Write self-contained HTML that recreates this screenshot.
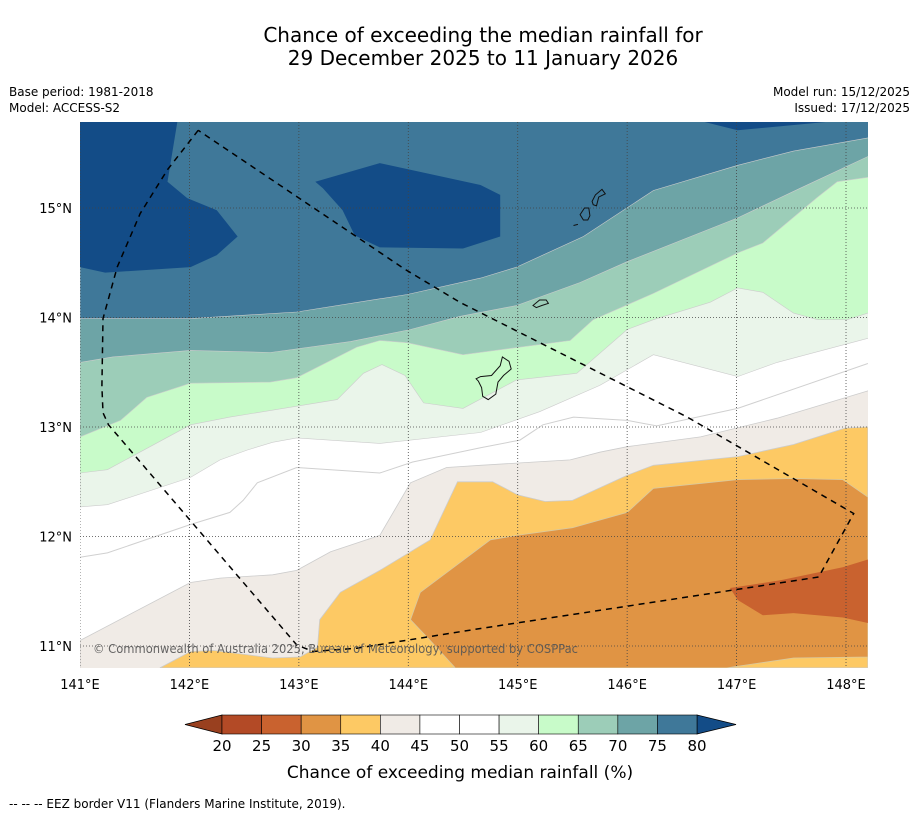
<!DOCTYPE html>
<html><head><meta charset="utf-8"><style>
body{margin:0;background:#fff;font-family:"Liberation Sans","DejaVu Sans",sans-serif}
svg text{font-family:"DejaVu Sans","Liberation Sans",sans-serif}
</style></head><body>
<svg id="fig" width="919" height="816" xmlns="http://www.w3.org/2000/svg">
<text x="483" y="42" font-size="20" text-anchor="middle">Chance of exceeding the median rainfall for</text>
<text x="483" y="65" font-size="20" text-anchor="middle">29 December 2025 to 11 January 2026</text>
<text x="9" y="96" font-size="12">Base period: 1981-2018</text>
<text x="9" y="112" font-size="12">Model: ACCESS-S2</text>
<text x="910" y="96" font-size="12" text-anchor="end">Model run: 15/12/2025</text>
<text x="910" y="112" font-size="12" text-anchor="end">Issued: 17/12/2025</text>
<defs><clipPath id="mc"><rect x="80" y="122" width="788" height="546"/></clipPath></defs>
<g id="map" clip-path="url(#mc)"></g>
<g id="axes"></g>
<g id="cbar"></g>
<text x="460" y="778" font-size="17" text-anchor="middle">Chance of exceeding median rainfall (%)</text>
<text x="9" y="808" font-size="12">--  --  -- EEZ border V11 (Flanders Marine Institute, 2019).</text>
</svg>
<script>
const lonTicks=[141,142,143,144,145,146,147,148];
const latTicks=[11,12,13,14,15];
const cbLevels=[20,25,30,35,40,45,50,55,60,65,70,75,80];
const cbColors=["#b34a26","#c9622f","#e09444","#fdc964","#f0ebe6","#ffffff","#ffffff","#eaf5ea","#c8fbc9","#9ccdb8","#6da4a6","#3f7899"];
// contour lines (lon,lat), west to east
const c75=[[141.00,13.99],[142.01,13.99],[142.98,14.05],[143.99,14.21],[144.66,14.36],[144.99,14.46],[145.60,14.74],[146.24,15.16],[147.01,15.39],[147.52,15.52],[148.20,15.64]];
const c70=[[141.00,13.59],[141.30,13.64],[142.01,13.70],[142.74,13.68],[143.47,13.78],[144.02,13.89],[144.47,14.01],[144.99,14.11],[145.57,14.32],[146.00,14.51],[147.01,14.91],[147.58,15.18],[148.20,15.47]];
const c65=[[141.00,12.91],[141.37,13.06],[141.61,13.27],[142.01,13.40],[142.74,13.41],[142.98,13.45],[143.53,13.73],[143.74,13.79],[143.99,13.77],[144.50,13.66],[145.48,13.79],[145.69,13.98],[146.24,14.22],[147.01,14.59],[147.24,14.68],[147.74,15.10],[147.92,15.24],[148.20,15.28]];
const c60=[[141.00,12.58],[141.25,12.61],[142.01,13.02],[142.37,13.09],[143.35,13.25],[143.59,13.49],[143.76,13.57],[143.97,13.47],[144.14,13.22],[144.50,13.17],[144.99,13.43],[145.54,13.49],[146.00,13.89],[146.24,13.98],[146.76,14.14],[147.01,14.27],[147.24,14.23],[147.52,14.04],[147.74,13.98],[148.01,13.98],[148.20,14.04]];
const c55=[[141.00,12.27],[141.25,12.29],[142.01,12.54],[142.28,12.70],[142.53,12.79],[142.76,12.86],[142.98,12.90],[143.74,12.85],[144.66,12.95],[145.20,13.14],[145.75,13.38],[146.24,13.66],[147.01,13.46],[147.37,13.59],[148.20,13.81]];
const c50=[[141.00,11.81],[141.25,11.85],[142.01,12.11],[142.37,12.22],[142.49,12.33],[142.62,12.49],[142.98,12.63],[143.74,12.58],[144.04,12.68],[144.66,12.81],[145.02,12.88],[145.23,13.02],[145.51,13.09],[146.00,13.06],[146.27,13.01],[147.01,13.17],[148.20,13.58]];
const c45=[[141.00,11.05],[142.01,11.58],[142.28,11.62],[142.76,11.65],[142.98,11.69],[143.29,11.86],[143.74,12.01],[144.02,12.49],[144.35,12.63],[144.66,12.65],[145.48,12.70],[145.75,12.77],[146.00,12.82],[146.67,12.91],[147.37,13.08],[148.20,13.33]];
const yellowZone=[[141.73,10.80],[142.01,10.95],[142.22,10.96],[142.76,10.89],[143.01,10.90],[143.17,10.99],[143.19,11.24],[143.38,11.49],[143.74,11.69],[144.20,11.97],[144.45,12.50],[144.77,12.50],[145.00,12.38],[145.25,12.32],[145.50,12.33],[146.00,12.56],[146.24,12.65],[147.01,12.73],[147.52,12.84],[147.99,12.99],[148.20,13.00],[148.20,10.80]];
const orangeZone=[[144.11,11.49],[144.47,11.76],[144.75,11.97],[144.99,12.01],[145.50,12.08],[146.00,12.22],[146.24,12.44],[147.01,12.52],[147.52,12.53],[147.97,12.52],[148.20,12.36],[148.20,10.90],[147.52,10.89],[146.91,10.80],[144.43,10.80],[144.20,11.05],[144.02,11.24]];
const redZone=[[146.94,11.53],[147.40,11.60],[147.97,11.72],[148.20,11.79],[148.20,11.21],[147.97,11.26],[147.52,11.30],[147.24,11.28],[147.01,11.42]];
const blueBlobs=[
 [[141.00,15.79],[141.89,15.79],[141.80,15.24],[141.98,15.09],[142.25,14.98],[142.44,14.74],[142.25,14.57],[142.01,14.46],[141.23,14.41],[141.00,14.46]],
 [[143.15,15.24],[143.74,15.41],[144.66,15.21],[144.84,15.12],[144.84,14.74],[144.50,14.63],[143.74,14.64],[143.51,14.75],[143.40,14.98],[143.22,15.18]],
 [[146.65,15.80],[147.01,15.71],[147.97,15.80]]];
const eez=[[142.08,15.71],[141.80,15.35],[141.55,14.95],[141.34,14.46],[141.21,13.99],[141.20,13.37],[141.21,13.13],[141.26,13.02],[142.98,11.01],[143.13,10.95],[143.53,10.98],[144.66,11.16],[147.75,11.63],[148.07,12.21],[146.55,13.09],[144.47,14.14],[143.97,14.44],[142.08,15.71]];
const islands=[
 [[144.62,13.44],[144.66,13.46],[144.76,13.47],[144.84,13.56],[144.86,13.64],[144.92,13.60],[144.94,13.53],[144.87,13.47],[144.82,13.41],[144.80,13.30],[144.73,13.25],[144.68,13.28],[144.67,13.36],[144.64,13.42]],
 [[145.14,14.11],[145.20,14.16],[145.26,14.16],[145.28,14.13],[145.22,14.11],[145.17,14.09]],
 [[145.57,14.94],[145.61,15.00],[145.65,15.00],[145.66,14.93],[145.64,14.89],[145.60,14.89]],
 [[145.68,15.06],[145.71,15.12],[145.77,15.17],[145.80,15.13],[145.74,15.10],[145.72,15.02],[145.69,15.03]],
 [[145.51,14.84],[145.55,14.85]]];
const X=lon=>80+(lon-141)*109.43;
const Y=lat=>208-(lat-15)*109.5;
const NS="http://www.w3.org/2000/svg";
const map=document.getElementById('map'),axes=document.getElementById('axes'),cb=document.getElementById('cbar');
function mk(tag,attrs,parent){const e=document.createElementNS(NS,tag);for(const k in attrs)e.setAttribute(k,attrs[k]);parent.appendChild(e);return e;}
const pts=a=>a.map(p=>X(p[0]).toFixed(1)+','+Y(p[1]).toFixed(1)).join(' ');
function north(line,fill,name){const a=[[141,15.9]].concat([[141,line[0][1]]],line,[[148.3,line[line.length-1][1]],[148.3,15.9]]);
 const e=mk('polygon',{points:pts(a),fill:fill,stroke:'#ccc','stroke-width':0.6},map);
 
 }
function poly(a,fill,name,stroke){const e=mk('polygon',{points:pts(a),fill:fill,stroke:stroke||'none','stroke-width':0.8},map);
 
 }
mk('rect',{x:80,y:122,width:788,height:546,fill:'#ffffff'},map);
north(c55,cbColors[7],'band-55-60');
north(c60,cbColors[8],'band-60-65');
north(c65,cbColors[9],'band-65-70');
north(c70,cbColors[10],'band-70-75');
north(c75,cbColors[11],'band-75-80');
blueBlobs.forEach(b=>poly(b,'#134c87','band-above-80'));
const bs=[[141,10.7]].concat(c45,[[148.3,13.33],[148.3,10.7]]);
poly(bs,cbColors[4],'band-40-45','#ccc');
poly(yellowZone,cbColors[3],'band-35-40','#ccc');
poly(orangeZone,cbColors[2],'band-30-35','#d8c9a0');
poly(redZone,cbColors[1],'band-25-30');
{const e=mk('polyline',{points:pts(c50),fill:'none',stroke:'#d0d0d0','stroke-width':1},map);
 
 }
lonTicks.forEach(l=>{const e=mk('line',{x1:X(l),x2:X(l),y1:122,y2:668,stroke:'#444','stroke-width':0.8,'stroke-dasharray':'1,2'},map);
 
 });
latTicks.forEach(l=>{const e=mk('line',{x1:80,x2:868,y1:Y(l),y2:Y(l),stroke:'#444','stroke-width':0.8,'stroke-dasharray':'1,2'},map);
 
 });
islands.forEach(a=>{const e=mk(a.length>2?'polygon':'polyline',{points:pts(a),fill:'none',stroke:'#111','stroke-width':1},map);
 
 });
{const e=mk('polyline',{points:pts(eez),fill:'none',stroke:'#000','stroke-width':1.5,'stroke-dasharray':'6,5'},map);
 
 }
{const t=mk('text',{x:93,y:653,'font-size':12,fill:'#555','fill-opacity':0.9,textLength:485,lengthAdjust:'spacingAndGlyphs'},map);t.textContent='© Commonwealth of Australia 2025, Bureau of Meteorology, supported by COSPPac';
 
 }
lonTicks.forEach(l=>{const t=mk('text',{x:X(l),y:689,'font-size':13,'text-anchor':'middle'},axes);t.textContent=l+'°E';
 
 });
latTicks.forEach(l=>{const t=mk('text',{x:72,y:Y(l)+5,'font-size':13,'text-anchor':'end'},axes);t.textContent=l+'°N';
 
 });
// colorbar
const cx0=222,cx1=697,cy=715,ch=19,w=(cx1-cx0)/cbColors.length;
{const e=mk('polygon',{points:`${cx0},${cy} ${185},${cy+ch/2} ${cx0},${cy+ch}`,fill:'#99401f',stroke:'#000','stroke-width':0.8},cb);
 
 }
{const e=mk('polygon',{points:`${cx1},${cy} ${736},${cy+ch/2} ${cx1},${cy+ch}`,fill:'#134c87',stroke:'#000','stroke-width':0.8},cb);
 
 }
cbColors.forEach((c,i)=>{const e=mk('rect',{x:cx0+i*w,y:cy,width:w,height:ch,fill:c,stroke:'#000','stroke-width':0.6},cb);
 
 });
cbLevels.forEach((v,i)=>{const t=mk('text',{x:cx0+i*w,y:751,'font-size':15,'text-anchor':'middle'},cb);t.textContent=v;
 
 });
</script>
</body></html>
